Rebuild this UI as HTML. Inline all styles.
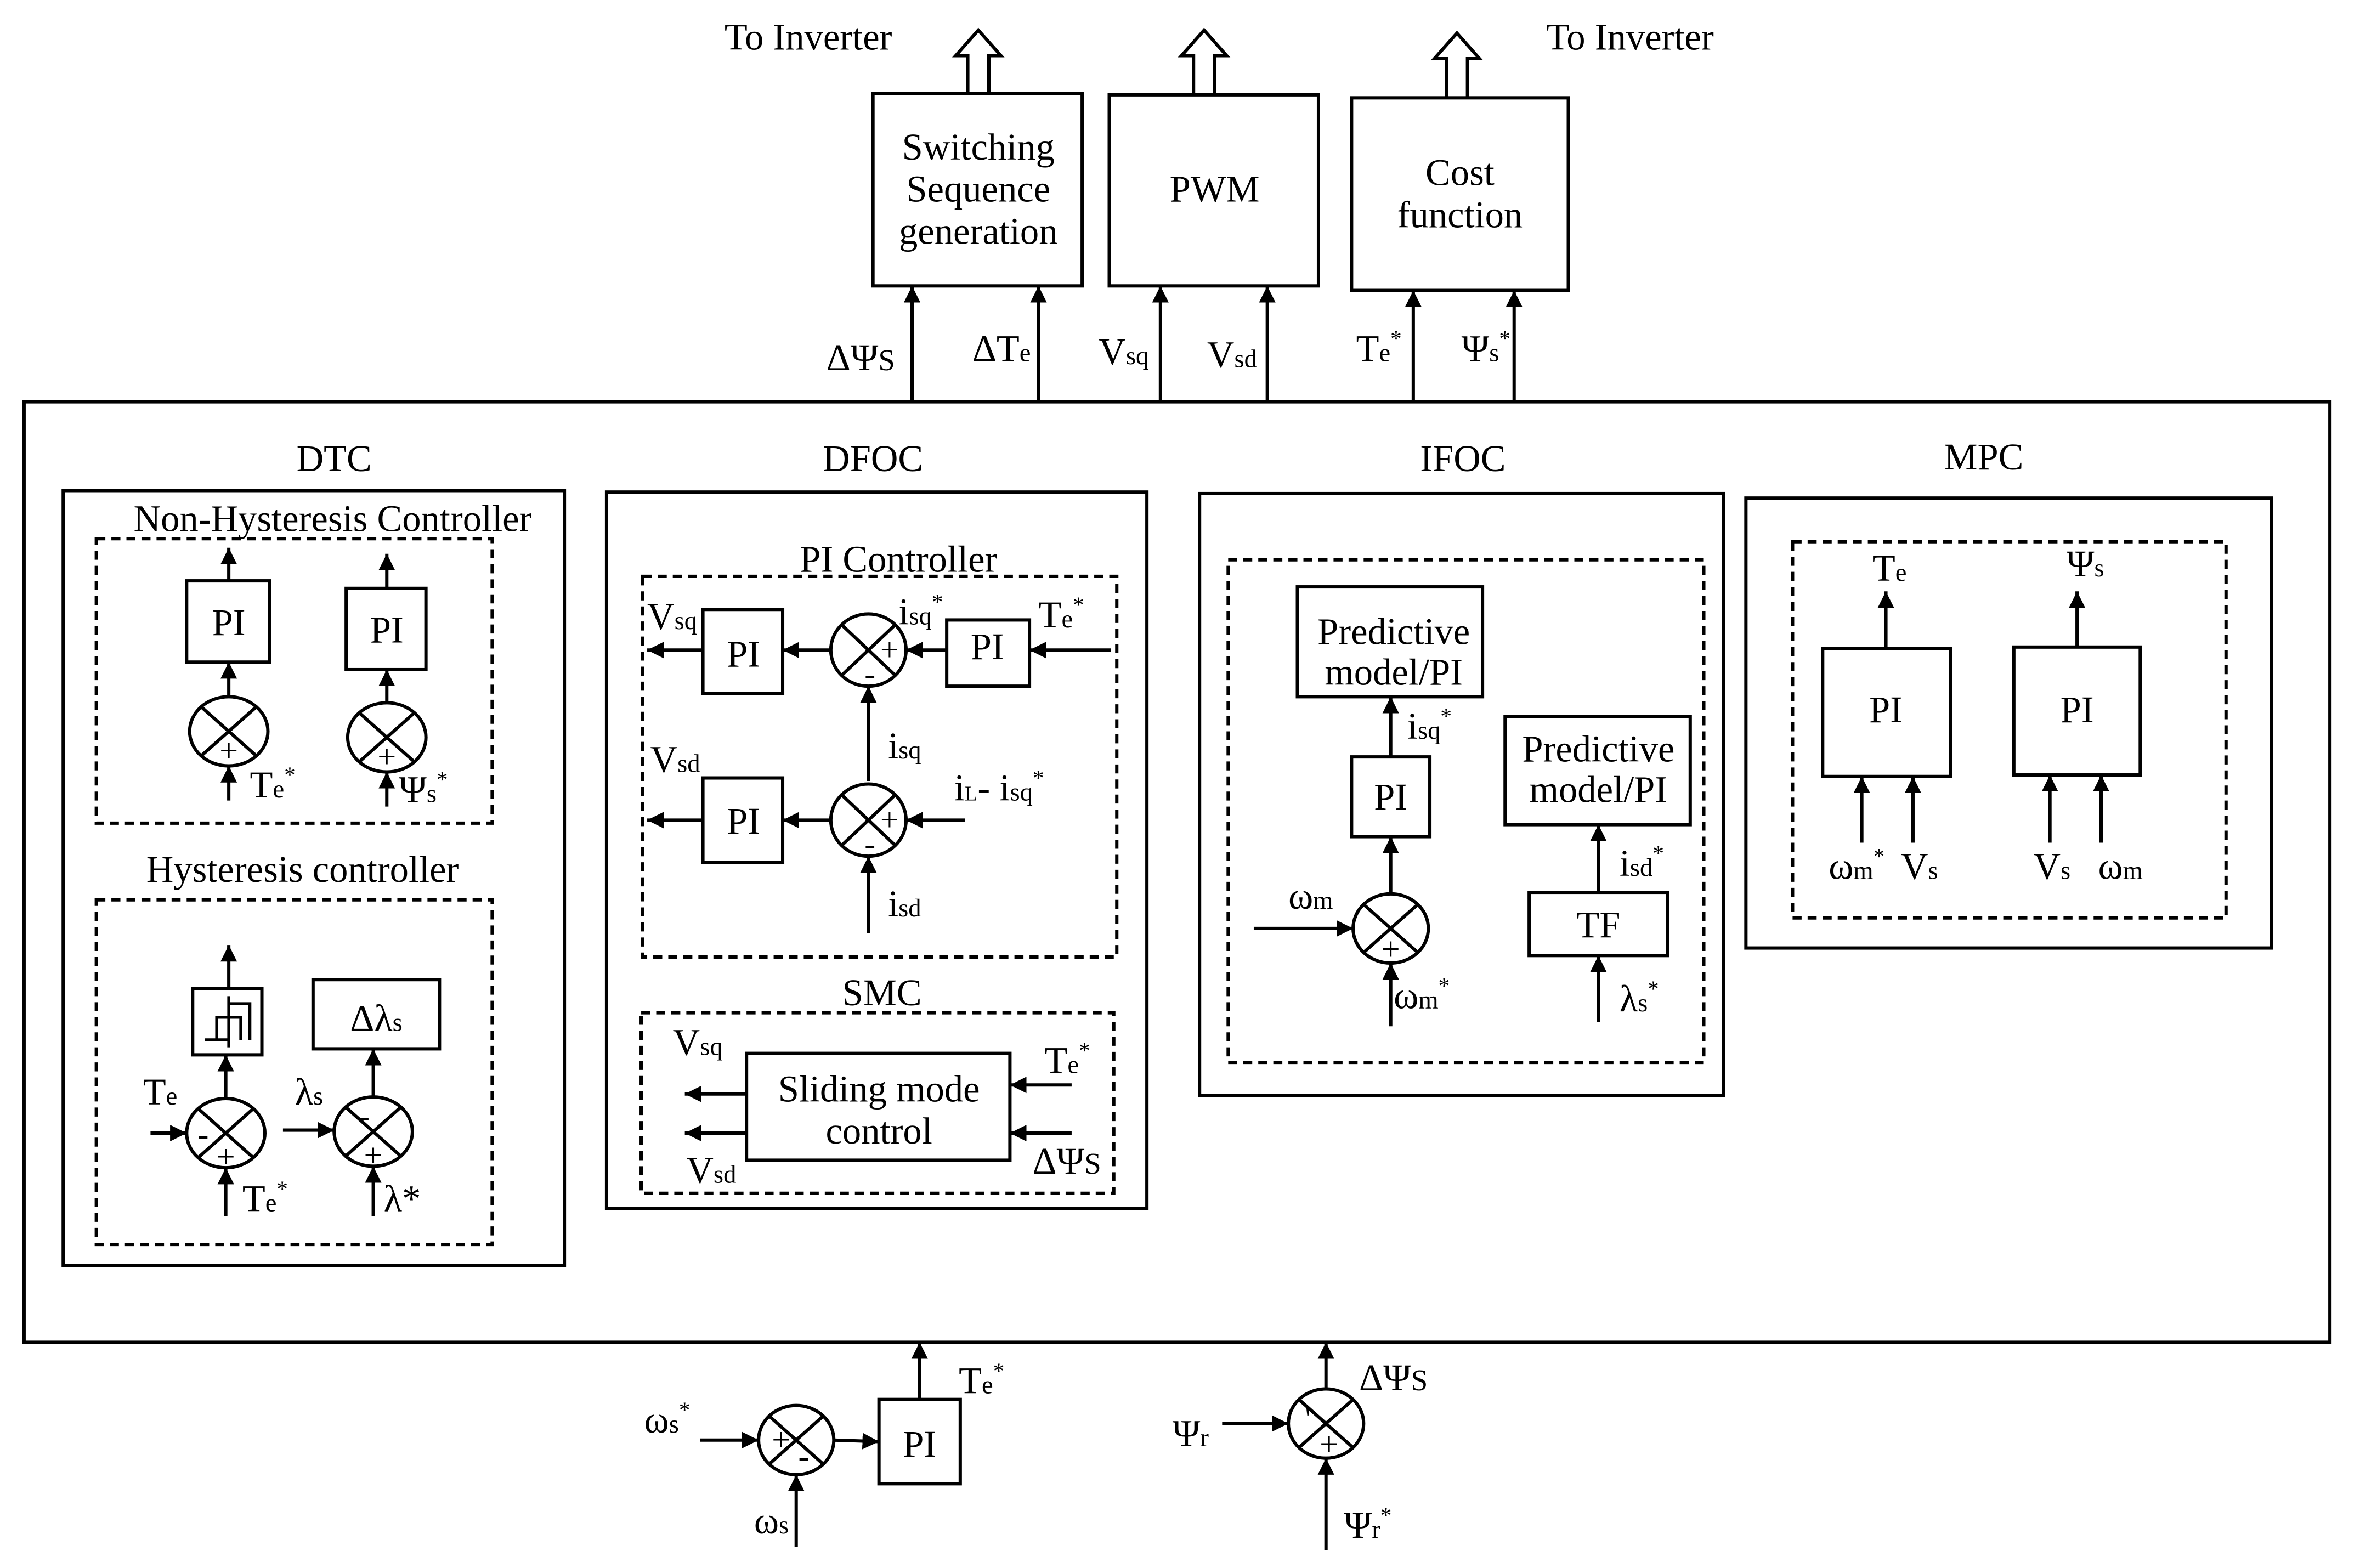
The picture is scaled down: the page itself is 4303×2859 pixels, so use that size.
<!DOCTYPE html>
<html><head><meta charset="utf-8"><style>
html,body{margin:0;padding:0;background:#fff}
svg{display:block}
text{font-family:"Liberation Serif",serif;fill:#000}
</style></head><body>
<svg width="4303" height="2859" viewBox="0 0 1568 1042" preserveAspectRatio="none" xmlns="http://www.w3.org/2000/svg">
<defs>
<marker id="a" viewBox="0 0 10 10" refX="10" refY="5" markerWidth="5" markerHeight="5" orient="auto" markerUnits="strokeWidth">
<path d="M0,0 L10,5 L0,10 z" fill="#000"/></marker>
</defs>
<rect width="1568" height="1042" fill="#fff"/>
<g fill="none" stroke="#000" stroke-width="2.2">
<rect x="580" y="62" width="139" height="128"/>
<rect x="737" y="63" width="139" height="127"/>
<rect x="898" y="65" width="144" height="128"/>
<path d="M643,62 V37 H635 L650,20 L665,37 H657 V62"/>
<path d="M793,63 V37 H785 L800,20 L815,37 H807 V63"/>
<path d="M961,65 V39 H953 L968,22 L983,39 H975 V65"/>
<rect x="16" y="267" width="1532" height="625"/>
</g>
<g stroke="#000" stroke-width="2.2" fill="none" marker-end="url(#a)">
<line x1="606" y1="267" x2="606" y2="190"/>
<line x1="690" y1="267" x2="690" y2="190"/>
<line x1="771" y1="267" x2="771" y2="190"/>
<line x1="842" y1="267" x2="842" y2="190"/>
<line x1="939" y1="267" x2="939" y2="193"/>
<line x1="1006" y1="267" x2="1006" y2="193"/>
</g>
<g font-size="25" text-anchor="middle">
<text x="537" y="33">To Inverter</text>
<text x="1083" y="33">To Inverter</text>
<text x="650" y="106">Switching</text>
<text x="650" y="134">Sequence</text>
<text x="650" y="162">generation</text>
<text x="807" y="134">PWM</text>
<text x="970" y="123">Cost</text>
<text x="970" y="151">function</text>
</g>
<g font-size="25">
<text x="549" y="246">ΔΨ<tspan font-size="20">S</tspan></text>
<text x="646" y="240">ΔT<tspan font-size="17">e</tspan></text>
<text x="730" y="242">V<tspan font-size="17">sq</tspan></text>
<text x="802" y="244">V<tspan font-size="17">sd</tspan></text>
<text x="901" y="240">T<tspan font-size="17">e</tspan><tspan font-size="15" dy="-10">*</tspan></text>
<text x="971" y="240">Ψ<tspan font-size="17">s</tspan><tspan font-size="15" dy="-10">*</tspan></text>
</g>

<!-- DTC -->
<g fill="none" stroke="#000" stroke-width="2.2">
<rect x="42" y="326" width="333" height="515"/>
<rect x="64" y="358" width="263" height="189" stroke-dasharray="6,4"/>
<rect x="64" y="598" width="263" height="229" stroke-dasharray="6,4"/>
<rect x="124" y="386" width="55" height="54"/>
<rect x="230" y="391" width="53" height="54"/>
<rect x="128" y="657" width="46" height="44"/>
<rect x="208" y="651" width="84" height="46"/>
<path d="M136,691 H152 V667 H166 V691 M152,667 V662 M152,691 V696" stroke-width="2"/>
<path d="M144,691 V676 H160 V691" stroke-width="2"/>
</g>
<g font-size="25" text-anchor="middle">
<text x="222" y="313">DTC</text>
<text x="221" y="353">Non-Hysteresis Controller</text>
<text x="152" y="422">PI</text>
<text x="257" y="427">PI</text>
<text x="201" y="586">Hysteresis controller</text>
<text x="250" y="685">Δλ<tspan font-size="17">s</tspan></text>
</g>

<!-- DFOC -->
<g fill="none" stroke="#000" stroke-width="2.2">
<rect x="403" y="327" width="359" height="476"/>
<rect x="427" y="383" width="315" height="253" stroke-dasharray="6,4"/>
<rect x="426" y="673" width="314" height="120" stroke-dasharray="6,4"/>
<rect x="467" y="405" width="53" height="56"/>
<rect x="629" y="412" width="55" height="44"/>
<rect x="467" y="517" width="53" height="56"/>
<rect x="496" y="700" width="175" height="71"/>
</g>
<g font-size="25" text-anchor="middle">
<text x="580" y="313">DFOC</text>
<text x="597" y="380">PI Controller</text>
<text x="494" y="443">PI</text>
<text x="656" y="438">PI</text>
<text x="494" y="554">PI</text>
<text x="586" y="668">SMC</text>
<text x="584" y="732">Sliding mode</text>
<text x="584" y="760">control</text>
</g>
<g font-size="25">
<text x="430" y="418">V<tspan font-size="17">sq</tspan></text>
<text x="432" y="513">V<tspan font-size="17">sd</tspan></text>
<text x="597" y="415">i<tspan font-size="17">sq</tspan><tspan font-size="15" dy="-10">*</tspan></text>
<text x="690" y="417">T<tspan font-size="17">e</tspan><tspan font-size="15" dy="-10">*</tspan></text>
<text x="590" y="504">i<tspan font-size="17">sq</tspan></text>
<text x="634" y="532">i<tspan font-size="14">L</tspan>- i<tspan font-size="17">sq</tspan><tspan font-size="15" dy="-10">*</tspan></text>
<text x="590" y="609">i<tspan font-size="17">sd</tspan></text>
<text x="447" y="701">V<tspan font-size="17">sq</tspan></text>
<text x="456" y="786">V<tspan font-size="17">sd</tspan></text>
<text x="694" y="713">T<tspan font-size="17">e</tspan><tspan font-size="15" dy="-10">*</tspan></text>
<text x="686" y="780">ΔΨ<tspan font-size="20">S</tspan></text>
</g>

<!-- IFOC -->
<g fill="none" stroke="#000" stroke-width="2.2">
<rect x="797" y="328" width="348" height="400"/>
<rect x="816" y="372" width="316" height="334" stroke-dasharray="6,4"/>
<rect x="862" y="390" width="123" height="73"/>
<rect x="898" y="503" width="52" height="53"/>
<rect x="1000" y="476" width="123" height="72"/>
<rect x="1016" y="593" width="92" height="42"/>
</g>
<g font-size="25" text-anchor="middle">
<text x="972" y="313">IFOC</text>
<text x="926" y="428">Predictive</text>
<text x="926" y="455">model/PI</text>
<text x="924" y="538">PI</text>
<text x="1062" y="506">Predictive</text>
<text x="1062" y="533">model/PI</text>
<text x="1062" y="623">TF</text>
</g>
<g font-size="25">
<text x="935" y="491">i<tspan font-size="17">sq</tspan><tspan font-size="15" dy="-10">*</tspan></text>
<text x="856" y="604">ω<tspan font-size="17">m</tspan></text>
<text x="926" y="670">ω<tspan font-size="17">m</tspan><tspan font-size="15" dy="-10">*</tspan></text>
<text x="1076" y="582">i<tspan font-size="17">sd</tspan><tspan font-size="15" dy="-10">*</tspan></text>
<text x="1076" y="672">λ<tspan font-size="17">s</tspan><tspan font-size="15" dy="-10">*</tspan></text>
</g>

<!-- MPC -->
<g fill="none" stroke="#000" stroke-width="2.2">
<rect x="1160" y="331" width="349" height="299"/>
<rect x="1191" y="360" width="288" height="250" stroke-dasharray="6,4"/>
<rect x="1211" y="431" width="85" height="85"/>
<rect x="1338" y="430" width="84" height="85"/>
</g>
<g font-size="25" text-anchor="middle">
<text x="1318" y="312">MPC</text>
<text x="1253" y="480">PI</text>
<text x="1380" y="480">PI</text>
</g>
<g font-size="25">
<text x="1244" y="386">T<tspan font-size="17">e</tspan></text>
<text x="1373" y="383">Ψ<tspan font-size="17">s</tspan></text>
<text x="1215" y="584">ω<tspan font-size="17">m</tspan><tspan font-size="15" dy="-10">*</tspan></text>
<text x="1263" y="584">V<tspan font-size="17">s</tspan></text>
<text x="1351" y="584">V<tspan font-size="17">s</tspan></text>
<text x="1394" y="584">ω<tspan font-size="17">m</tspan></text>
</g>

<!-- bottom -->
<g fill="none" stroke="#000" stroke-width="2.2">
<rect x="584" y="930" width="54" height="56"/>
</g>
<text x="611" y="968" font-size="25" text-anchor="middle">PI</text>
<g font-size="25">
<text x="428" y="952">ω<tspan font-size="17">s</tspan><tspan font-size="15" dy="-10">*</tspan></text>
<text x="501" y="1019">ω<tspan font-size="17">s</tspan></text>
<text x="637" y="926">T<tspan font-size="17">e</tspan><tspan font-size="15" dy="-10">*</tspan></text>
<text x="903" y="924">ΔΨ<tspan font-size="20">S</tspan></text>
<text x="779" y="961">Ψ<tspan font-size="17">r</tspan></text>
<text x="893" y="1022">Ψ<tspan font-size="17">r</tspan><tspan font-size="15" dy="-10">*</tspan></text>
</g>

<g fill="none" stroke="#000" stroke-width="2.2">
<ellipse cx="152" cy="486" rx="26" ry="23"/><path d="M134,470 L170,502 M170,470 L134,502"/>
<ellipse cx="257" cy="490" rx="26" ry="23"/><path d="M239,474 L275,506 M275,474 L239,506"/>
<ellipse cx="150" cy="753" rx="26" ry="23"/><path d="M132,737 L168,769 M168,737 L132,769"/>
<ellipse cx="248" cy="752" rx="26" ry="23"/><path d="M230,736 L266,768 M266,736 L230,768"/>
<ellipse cx="577" cy="432" rx="25" ry="24"/><path d="M559,415 L595,449 M595,415 L559,449"/>
<ellipse cx="577" cy="545" rx="25" ry="24"/><path d="M559,528 L595,562 M595,528 L559,562"/>
<ellipse cx="924" cy="617" rx="25" ry="23"/><path d="M906,601 L942,633 M942,601 L906,633"/>
<ellipse cx="529" cy="957" rx="25" ry="23"/><path d="M511,941 L547,973 M547,941 L511,973"/>
<ellipse cx="881" cy="946" rx="25" ry="23"/><path d="M863,930 L899,962 M899,930 L863,962"/>
</g>
<g font-size="22" text-anchor="middle">
<text x="152" y="506">+</text><text x="257" y="510">+</text>
<text x="150" y="776">+</text><text x="135" y="761">-</text>
<text x="248" y="775">+</text><text x="242" y="749">-</text>
<text x="591" y="439">+</text><text x="578" y="455">-</text>
<text x="591" y="552">+</text><text x="578" y="568">-</text>
<text x="924" y="638">+</text>
<text x="519" y="964">+</text><text x="534" y="975">-</text>
<text x="883" y="967">+</text><text x="869" y="950">'</text>
</g>

<g stroke="#000" stroke-width="2.2" fill="none" marker-end="url(#a)">
<line x1="152" y1="386" x2="152" y2="364"/>
<line x1="152" y1="463" x2="152" y2="440"/>
<line x1="152" y1="532" x2="152" y2="509"/>
<line x1="257" y1="391" x2="257" y2="368"/>
<line x1="257" y1="467" x2="257" y2="445"/>
<line x1="257" y1="536" x2="257" y2="513"/>
<line x1="152" y1="657" x2="152" y2="628"/>
<line x1="150" y1="730" x2="150" y2="701"/>
<line x1="100" y1="753" x2="124" y2="753"/>
<line x1="150" y1="808" x2="150" y2="776"/>
<line x1="248" y1="729" x2="248" y2="697"/>
<line x1="188" y1="751" x2="222" y2="751"/>
<line x1="248" y1="808" x2="248" y2="775"/>
<line x1="467" y1="432" x2="430" y2="432"/>
<line x1="552" y1="432" x2="520" y2="432"/>
<line x1="629" y1="432" x2="602" y2="432"/>
<line x1="738" y1="432" x2="684" y2="432"/>
<line x1="577" y1="519" x2="577" y2="456"/>
<line x1="467" y1="545" x2="430" y2="545"/>
<line x1="552" y1="545" x2="520" y2="545"/>
<line x1="641" y1="545" x2="602" y2="545"/>
<line x1="577" y1="620" x2="577" y2="569"/>
<line x1="496" y1="727" x2="455" y2="727"/>
<line x1="496" y1="753" x2="455" y2="753"/>
<line x1="712" y1="721" x2="671" y2="721"/>
<line x1="712" y1="753" x2="671" y2="753"/>
<line x1="924" y1="503" x2="924" y2="463"/>
<line x1="924" y1="594" x2="924" y2="556"/>
<line x1="833" y1="617" x2="899" y2="617"/>
<line x1="924" y1="682" x2="924" y2="640"/>
<line x1="1062" y1="593" x2="1062" y2="548"/>
<line x1="1062" y1="679" x2="1062" y2="635"/>
<line x1="1253" y1="431" x2="1253" y2="393"/>
<line x1="1380" y1="430" x2="1380" y2="393"/>
<line x1="1237" y1="560" x2="1237" y2="516"/>
<line x1="1271" y1="560" x2="1271" y2="516"/>
<line x1="1362" y1="560" x2="1362" y2="515"/>
<line x1="1396" y1="560" x2="1396" y2="515"/>
<line x1="465" y1="957" x2="504" y2="957"/>
<line x1="529" y1="1028" x2="529" y2="980"/>
<line x1="554" y1="957" x2="584" y2="958"/>
<line x1="611" y1="930" x2="611" y2="892"/>
<line x1="881" y1="923" x2="881" y2="892"/>
<line x1="812" y1="946" x2="856" y2="946"/>
<line x1="881" y1="1030" x2="881" y2="969"/>
</g>
<g font-size="25">
<text x="166" y="530">T<tspan font-size="17">e</tspan><tspan font-size="15" dy="-10">*</tspan></text>
<text x="265" y="533">Ψ<tspan font-size="17">s</tspan><tspan font-size="15" dy="-10">*</tspan></text>
<text x="95" y="734">T<tspan font-size="17">e</tspan></text>
<text x="196" y="734">λ<tspan font-size="17">s</tspan></text>
<text x="161" y="805">T<tspan font-size="17">e</tspan><tspan font-size="15" dy="-10">*</tspan></text>
<text x="255" y="805">λ*</text>
</g>
</svg>
</body></html>
